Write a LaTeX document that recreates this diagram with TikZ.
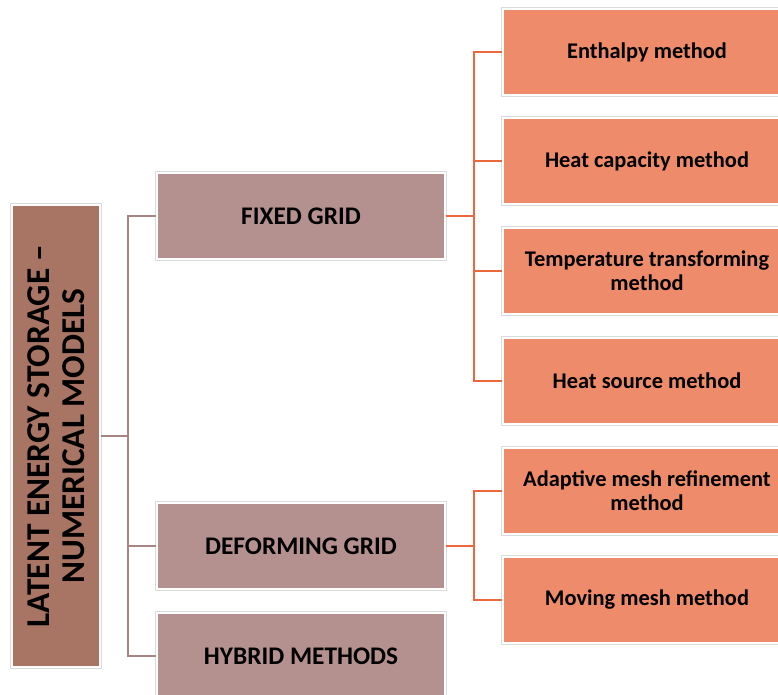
\documentclass[tikz,border=0pt]{standalone}
\usepackage{fontspec}
\setmainfont{Carlito}
\definecolor{rootfill}{RGB}{168,116,100}
\definecolor{groupfill}{RGB}{180,145,142}
\definecolor{methodfill}{RGB}{238,139,107}
\definecolor{methodedge}{RGB}{234,104,60}

\begin{document}
\begin{tikzpicture}[
  x=0.75pt,y=-0.75pt,
  box/.style={draw=white,line width=1.1pt,preaction={draw=black!14,line width=2.4pt},
    align=center,inner sep=2pt,font=\bfseries},
  root/.style={box,fill=rootfill,rotate=90,minimum width=346.5pt,minimum height=66pt,
    font=\bfseries\fontsize{25}{26}\selectfont},
  group/.style={box,fill=groupfill,minimum width=216pt,minimum height=64.5pt,
    font=\bfseries\fontsize{19}{22}\selectfont},
  method/.style={box,fill=methodfill,minimum width=216pt,minimum height=64.5pt,
    font=\bfseries\fontsize{16.8}{18}\selectfont},
  treeline/.style={draw=groupfill!92!black,line width=2pt},
  methodline/.style={draw=methodedge,line width=2pt}
]
  \useasboundingbox (0,0) rectangle (778,695);
  \clip (0,0) rectangle (778,695);

  \node[root] (store) at (56,436) {LATENT ENERGY STORAGE --\\NUMERICAL MODELS};

  \node[group] (fixed) at (301,216) {FIXED GRID};
  \node[group] (deforming) at (301,546) {DEFORMING GRID};
  \node[group] (hybrid) at (301,656) {HYBRID METHODS};

  \node[method] (enthalpy) at (647,52) {Enthalpy method};
  \node[method] (heatcap) at (647,161) {Heat capacity method};
  \node[method] (temptrans) at (647,271) {Temperature transforming\\method};
  \node[method] (heatsrc) at (647,381) {Heat source method};
  \node[method] (adaptive) at (647,491) {Adaptive mesh refinement\\method};
  \node[method] (moving) at (647,600) {Moving mesh method};

  % vertical buses of the tree
  \coordinate (rootbus) at (128,0);
  \coordinate (methodbus) at (474,0);

  \foreach \n in {fixed,deforming,hybrid}
    \draw[treeline] (store.south) -- (rootbus |- store.south) |- (\n.west);
  \foreach \n in {enthalpy,heatcap,temptrans,heatsrc}
    \draw[methodline] (fixed.east) -- (methodbus |- fixed.east) |- (\n.west);
  \foreach \n in {adaptive,moving}
    \draw[methodline] (deforming.east) -- (methodbus |- deforming.east) |- (\n.west);
\end{tikzpicture}
\end{document}
